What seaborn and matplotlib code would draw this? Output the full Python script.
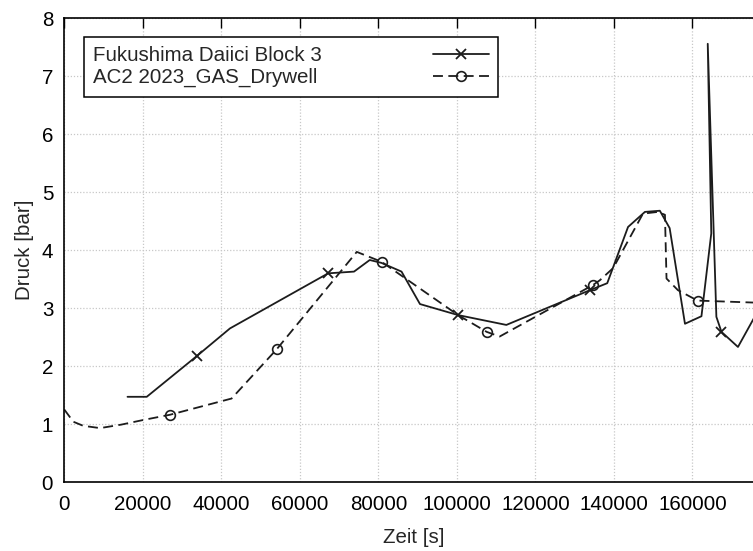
import matplotlib
matplotlib.use("Agg")
import matplotlib.pyplot as plt
from matplotlib.lines import Line2D
import pandas as pd
import seaborn as sns

# Measured drywell pressure, Fukushima Daiichi Unit 3
fuku_time = [16100, 21000, 33700, 42200, 67200, 73800, 77800, 80800, 85900,
             90600, 100300, 112600, 133900, 138300, 143600, 147900, 151700,
             154200, 158100, 162300, 164800, 163900, 166100, 167400, 171600,
             177000]
fuku_pressure = [1.47, 1.47, 2.17, 2.65, 3.60, 3.63, 3.83, 3.78, 3.63,
                 3.07, 2.88, 2.71, 3.31, 3.43, 4.40, 4.66, 4.68,
                 4.38, 2.73, 2.86, 4.29, 7.56, 2.85, 2.59, 2.33,
                 2.99]
fuku_mark_idx = [2, 4, 10, 12, 23]

# AC2 2023 simulation result, GAS_Drywell
ac2_time = [0, 2300, 4800, 9100, 14500, 20100, 26900, 42600, 54100, 74500,
            80800, 100300, 107600, 110900, 134700, 136400, 139800, 147400,
            151200, 153000, 153400, 156300, 161300, 178000]
ac2_pressure = [1.25, 1.04, 0.97, 0.93, 0.99, 1.07, 1.16, 1.44, 2.29, 3.97,
                3.80, 2.88, 2.59, 2.51, 3.40, 3.48, 3.69, 4.63,
                4.66, 4.61, 3.51, 3.31, 3.13, 3.09]
ac2_mark_idx = [6, 8, 10, 12, 14, 22]

series_labels = ["Fukushima Daiici Block 3", "AC2 2023_GAS_Drywell"]
x_ticks = [0, 20000, 40000, 60000, 80000, 100000, 120000, 140000, 160000]
y_ticks = [0, 1, 2, 3, 4, 5, 6, 7, 8]
x_label = "Zeit [s]"
y_label = "Druck [bar]"

sns.set_style("white")
plt.rcParams["font.family"] = ["Liberation Sans", "DejaVu Sans"]
plt.rcParams["font.size"] = 14.8

ink = "#1c1c1c"
lw = 1.3
dash = (0, (5.5, 3))

fig = plt.figure(figsize=(7.53, 5.51), dpi=100)
ax = fig.add_axes([0.0854, 0.1252, 0.928, 0.8416])

fuku = pd.DataFrame({"t": fuku_time, "p": fuku_pressure})
ac2 = pd.DataFrame({"t": ac2_time, "p": ac2_pressure})

sns.lineplot(data=fuku, x="t", y="p", sort=False, estimator=None, ax=ax,
             color=ink, linewidth=lw, marker="x", markevery=fuku_mark_idx,
             markersize=7.5, markeredgewidth=1.3, markeredgecolor=ink)
sns.lineplot(data=ac2, x="t", y="p", sort=False, estimator=None, ax=ax,
             color=ink, linewidth=lw, linestyle=dash, marker="o",
             markevery=ac2_mark_idx, markersize=7, markeredgewidth=1.2,
             markeredgecolor=ink, markerfacecolor="none")

ax.set_xlim(0, 178000)
ax.set_ylim(0, 8)
ax.set_xticks(x_ticks)
ax.set_xticklabels([str(v) for v in x_ticks])
ax.set_yticks(y_ticks)
ax.set_yticklabels([str(v) for v in y_ticks])
ax.tick_params(axis="both", direction="in", length=7, width=1.0,
               top=True, right=True, colors="black")
ax.tick_params(axis="x", pad=9.5)
ax.tick_params(axis="y", pad=8)
ax.grid(True, color="#c8c8c8", linestyle=(0, (1, 1.5)), linewidth=0.9)
for sp in ax.spines.values():
    sp.set_visible(True)
    sp.set_color("black")
    sp.set_linewidth(1.2)

ax.set_xlabel(x_label, labelpad=10)
ax.set_ylabel(y_label, labelpad=5.5)

handles = [
    Line2D([], [], color=ink, linewidth=lw, marker="x", markersize=7.5,
           markeredgewidth=1.3),
    Line2D([], [], color=ink, linewidth=lw, linestyle=dash, marker="o",
           markersize=7, markeredgewidth=1.2, markerfacecolor="none",
           markeredgecolor=ink),
]
leg = ax.legend(handles, series_labels, loc="upper left",
                bbox_to_anchor=(0.0282, 0.9603), borderaxespad=0,
                markerfirst=False, numpoints=1, handlelength=2.7,
                handletextpad=5.4, borderpad=0.45, labelspacing=0.15,
                fancybox=False, framealpha=1, edgecolor="black")
leg.get_frame().set_linewidth(1.1)

# keep the labels left-aligned while the line samples stay in one column
fig.canvas.draw()
widths = [t.get_window_extent().width for t in leg.get_texts()]
rows = leg._legend_handle_box.get_children()[0].get_children()
for row, w in zip(rows, widths):
    row.sep += (max(widths) - w) * 72 / fig.dpi

fig.savefig("out.png", dpi=100)
